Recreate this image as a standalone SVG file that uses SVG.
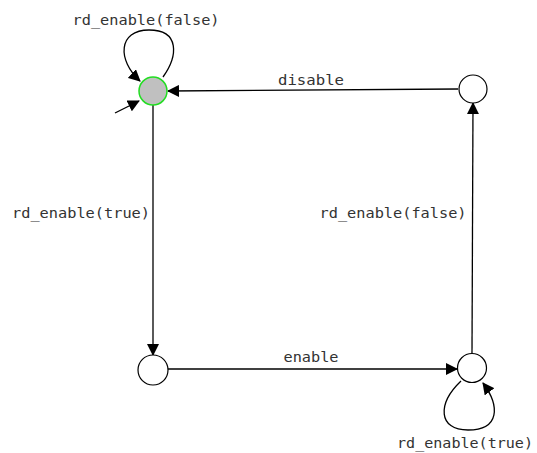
<svg xmlns="http://www.w3.org/2000/svg" width="537" height="453" viewBox="0 0 537 453">
<defs>
<marker id="arr" markerWidth="12" markerHeight="12" refX="11" refY="6" orient="auto" markerUnits="userSpaceOnUse">
<path d="M0,0 L12,6 L0,12 Z" fill="#000"/>
</marker>
<style>
.edge{fill:none;stroke:#000;stroke-width:1.3;marker-end:url(#arr)}
.st{fill:#fff;stroke:#000;stroke-width:1.2}
.init{fill:#c0c0c0;stroke:#22dd22;stroke-width:1.5}
.lbl{font-family:"DejaVu Sans Mono",monospace;font-size:14px;fill:#333;text-anchor:middle}
</style>
</defs>
<rect width="537" height="453" fill="#fff"/>
<g id="connectors">
<path class="edge" d="M115,113 L139,101"/>
<path class="edge" d="M163,77 C178,56 180,30 149,30 C118,30 117,60 140,81"/>
<path class="edge" d="M458,89 L168,91"/>
<path class="edge" d="M153,105 L153,355"/>
<path class="edge" d="M168,369 L457,369"/>
<path class="edge" d="M472,353 L473,103"/>
<path class="edge" d="M461,381 C437,404 438,430 468,430 C500,430 500,406 483,383"/>
<text class="lbl" x="146" y="25" textLength="147" lengthAdjust="spacingAndGlyphs">rd_enable(false)</text>
<text class="lbl" x="311" y="85" textLength="66" lengthAdjust="spacingAndGlyphs">disable</text>
<text class="lbl" x="81" y="218" textLength="138" lengthAdjust="spacingAndGlyphs">rd_enable(true)</text>
<text class="lbl" x="393" y="218" textLength="147" lengthAdjust="spacingAndGlyphs">rd_enable(false)</text>
<text class="lbl" x="311" y="362" textLength="55" lengthAdjust="spacingAndGlyphs">enable</text>
<text class="lbl" x="465" y="448" textLength="136" lengthAdjust="spacingAndGlyphs">rd_enable(true)</text>
</g>
<g id="s0"><circle class="init" cx="153" cy="91" r="14"/></g>
<g id="s1"><circle class="st" cx="473" cy="89" r="14"/></g>
<g id="s2"><circle class="st" cx="153" cy="370" r="15"/></g>
<g id="s3"><circle class="st" cx="472" cy="368" r="14.5"/></g>
</svg>
